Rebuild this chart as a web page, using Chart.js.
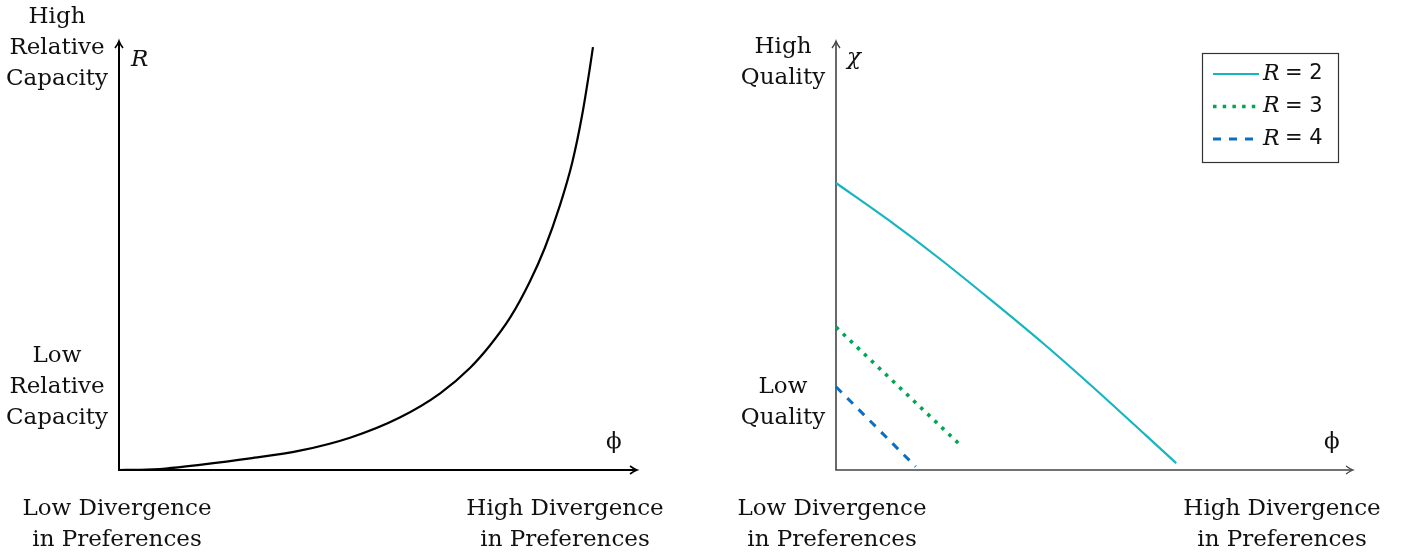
<!DOCTYPE html>
<html lang="en">
<head>
    <meta charset="UTF-8">
    <title>Capacity and Quality vs Divergence</title>
    <style>
        body {
            margin: 0;
            background: #fff;
            width: 1407px;
            height: 557px;
            overflow: hidden;
            position: relative;
            font-family: "DejaVu Serif", serif;
        }
        .panel {
            position: absolute;
            top: 0;
            height: 557px;
        }
        .lbl {
            position: absolute;
            text-align: center;
            font-size: 23px;
            line-height: 31px;
            color: #111;
            transform: translate(-50%, 0);
            white-space: nowrap;
        }
        .sym {
            position: absolute;
            font-size: 23px;
            color: #111;
        }
    </style>
</head>
<body>
    <div class="panel" style="left:0;width:700px"><canvas id="capChart"></canvas></div>
    <div class="panel" style="left:700px;width:707px"><canvas id="qualChart"></canvas></div>

    <div class="lbl" style="left:57px;top:0px">High<br>Relative<br>Capacity</div>
    <div class="lbl" style="left:57px;top:339px">Low<br>Relative<br>Capacity</div>
    <div class="lbl" style="left:117px;top:492px">Low Divergence<br>in Preferences</div>
    <div class="lbl" style="left:565px;top:492px">High Divergence<br>in Preferences</div>
    <div class="sym" style="left:131px;top:45px;font-style:italic">R</div>
    <div class="sym" style="left:606px;top:427px">ϕ</div>

    <div class="lbl" style="left:783px;top:30px">High<br>Quality</div>
    <div class="lbl" style="left:783px;top:370px">Low<br>Quality</div>
    <div class="lbl" style="left:832px;top:492px">Low Divergence<br>in Preferences</div>
    <div class="lbl" style="left:1282px;top:492px">High Divergence<br>in Preferences</div>
    <div class="sym" style="left:847px;top:43px;font-style:italic">χ</div>
    <div class="sym" style="left:1324px;top:427px">ϕ</div>

    <script src="https://cdn.jsdelivr.net/npm/chart.js"></script>
    <script>
        // left panel: relative capacity R against divergence phi
        const phiCap = [0, 0.4, 0.9, 1.56, 2.53, 3.49, 4.46, 5.42, 6.20, 6.78, 7.16, 7.55, 7.93, 8.22, 8.51, 8.75, 8.94, 9.09, 9.15];
        const capR   = [0, 0.005, 0.035, 0.12, 0.27, 0.45, 0.753, 1.224, 1.788, 2.385, 2.902, 3.55, 4.389, 5.175, 6.161, 7.168, 8.268, 9.371, 9.856];

        // right panel: quality chi against divergence phi, one line per R
        const phiR2 = [0, 1.0, 2.0, 3.0, 4.0, 5.0, 6.0, 6.58];
        const chiR2 = [6.69, 5.84, 4.93, 3.96, 2.96, 1.90, 0.80, 0.16];
        const phiR3 = [0, 2.45];
        const chiR3 = [3.33, 0.53];
        const phiR4 = [0, 1.54];
        const chiR4 = [1.94, 0.08];
        const seriesNames = ['2', '3', '4'];

        const pairs = (xs, ys) => xs.map((x, i) => ({ x: x, y: ys[i] }));

        function arrowHead(ctx, x, y, dir) {
            // small latex-like arrow tip, dir = 'up' or 'right'
            ctx.beginPath();
            if (dir === 'up') {
                ctx.moveTo(x - 4, y + 7);
                ctx.quadraticCurveTo(x - 1, y + 3, x, y);
                ctx.quadraticCurveTo(x + 1, y + 3, x + 4, y + 7);
            } else {
                ctx.moveTo(x - 7, y - 4);
                ctx.quadraticCurveTo(x - 3, y - 1, x, y);
                ctx.quadraticCurveTo(x - 3, y + 1, x - 7, y + 4);
            }
            ctx.stroke();
        }

        function axesPlugin(color, width) {
            return {
                id: 'arrowAxes',
                beforeDatasetsDraw(chart) {
                    const a = chart.chartArea;
                    const ctx = chart.ctx;
                    ctx.save();
                    ctx.strokeStyle = color;
                    ctx.lineWidth = width;
                    ctx.beginPath();
                    ctx.moveTo(a.left, a.top + 1);
                    ctx.lineTo(a.left, a.bottom);
                    ctx.lineTo(a.right - 1, a.bottom);
                    ctx.stroke();
                    ctx.lineWidth = width * 0.8;
                    arrowHead(ctx, a.left, a.top, 'up');
                    arrowHead(ctx, a.right, a.bottom, 'right');
                    ctx.restore();
                }
            };
        }

        const legendBox = {
            id: 'legendBox',
            afterDraw(chart) {
                const ctx = chart.ctx;
                const bx = 502, by = 53, bw = 136, bh = 109;
                ctx.save();
                ctx.fillStyle = '#fff';
                ctx.fillRect(bx, by, bw, bh);
                ctx.strokeStyle = '#333';
                ctx.lineWidth = 1.2;
                ctx.strokeRect(bx + 0.5, by + 0.5, bw, bh);
                chart.data.datasets.forEach((ds, i) => {
                    const y = by + 21 + i * 32.5;
                    ctx.strokeStyle = ds.borderColor;
                    ctx.lineWidth = ds.borderWidth;
                    ctx.setLineDash(ds.borderDash || []);
                    ctx.beginPath();
                    ctx.moveTo(bx + 11, y);
                    ctx.lineTo(bx + 57, y);
                    ctx.stroke();
                    ctx.setLineDash([]);
                    ctx.fillStyle = '#111';
                    ctx.textBaseline = 'middle';
                    ctx.font = 'italic 22px "DejaVu Serif"';
                    ctx.fillText('R', bx + 61, y);
                    ctx.font = '21px "DejaVu Sans"';
                    ctx.fillText('= ' + seriesNames[i], bx + 83, y);
                });
                ctx.restore();
            }
        };

        const baseScales = {
            x: { type: 'linear', min: 0, max: 10, display: false },
            y: { type: 'linear', min: 0, max: 10, display: false }
        };

        function renderCapChart() {
            const canvas = document.getElementById('capChart');
            canvas.width = 700; canvas.height = 557;
            new Chart(canvas.getContext('2d'), {
                type: 'line',
                data: {
                    datasets: [{
                        label: 'R',
                        data: pairs(phiCap, capR),
                        borderColor: '#000',
                        borderWidth: 2.2,
                        pointRadius: 0,
                        cubicInterpolationMode: 'monotone',
                        clip: false
                    }]
                },
                options: {
                    responsive: false,
                    animation: false,
                    layout: { padding: { left: 119, right: 63, top: 41, bottom: 87 } },
                    scales: baseScales,
                    plugins: { legend: { display: false }, tooltip: { enabled: false } }
                },
                plugins: [axesPlugin('#000', 2)]
            });
        }

        function renderQualChart() {
            const canvas = document.getElementById('qualChart');
            canvas.width = 707; canvas.height = 557;
            new Chart(canvas.getContext('2d'), {
                type: 'line',
                data: {
                    datasets: [{
                        label: 'R = 2',
                        data: pairs(phiR2, chiR2),
                        borderColor: '#17b5c0',
                        borderWidth: 2.2,
                        pointRadius: 0,
                        tension: 0.3,
                        clip: false
                    }, {
                        label: 'R = 3',
                        data: pairs(phiR3, chiR3),
                        borderColor: '#00a651',
                        borderWidth: 3.6,
                        borderDash: [3.5, 6.2],
                        pointRadius: 0,
                        clip: false
                    }, {
                        label: 'R = 4',
                        data: pairs(phiR4, chiR4),
                        borderColor: '#0a6fc2',
                        borderWidth: 3,
                        borderDash: [8, 8],
                        pointRadius: 0,
                        clip: false
                    }]
                },
                options: {
                    responsive: false,
                    animation: false,
                    layout: { padding: { left: 136, right: 54, top: 41, bottom: 87 } },
                    scales: baseScales,
                    plugins: { legend: { display: false }, tooltip: { enabled: false } }
                },
                plugins: [axesPlugin('#444', 1.6), legendBox]
            });
        }

        renderCapChart();
        renderQualChart();
    </script>
</body>
</html>
